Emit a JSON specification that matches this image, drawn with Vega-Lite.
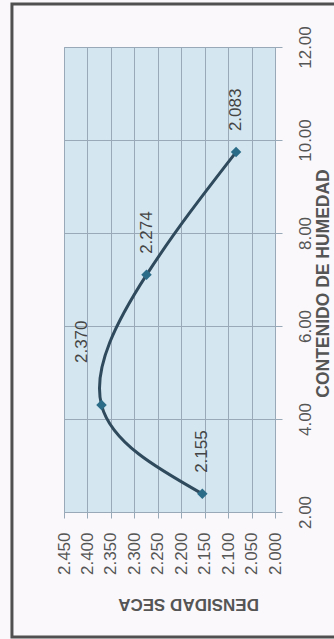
{
  "$schema": "https://vega.github.io/schema/vega-lite/v6.json",
  "autosize": {"type": "none"},
  "width": 211,
  "height": 465,
  "padding": {"left": 64, "top": 47, "right": 59, "bottom": 127},
  "background": "#faf8fb",
  "config": {
    "view": {"fill": "#d4e6f0", "stroke": "#9aa9b8", "strokeWidth": 1},
    "font": "Liberation Sans"
  },
  "datasets": {
    "pts": [
      {"humedad": 2.39, "densidad": 2.155},
      {"humedad": 4.30, "densidad": 2.370},
      {"humedad": 7.10, "densidad": 2.274},
      {"humedad": 9.74, "densidad": 2.083}
    ],
    "frame": [{"left": 2.561, "right": 1.84, "top": 12.925, "bottom": -0.688}]
  },
  "encoding": {
    "x": {
      "field": "densidad",
      "type": "quantitative",
      "scale": {"domain": [2.0, 2.45], "reverse": true, "nice": false, "zero": false},
      "axis": {
        "orient": "bottom",
        "values": [2.0, 2.05, 2.1, 2.15, 2.2, 2.25, 2.3, 2.35, 2.4, 2.45],
        "format": ".3f",
        "labelAngle": 270,
        "labelAlign": "right",
        "labelBaseline": "middle",
        "labelFontSize": 17,
        "labelColor": "#555555",
        "labelPadding": 14,
        "tickSize": 6,
        "tickColor": "#9aa9b8",
        "domainColor": "#9aa9b8",
        "gridColor": "#9aa9b8",
        "gridOpacity": 1,
        "title": "DENSIDAD SECA",
        "titleAngle": 180,
        "titleFontSize": 17,
        "titleFontWeight": "bold",
        "titleColor": "#555555",
        "titleAlign": "center",
        "titleBaseline": "middle",
        "titleX": 124,
        "titleY": 91
      }
    },
    "y": {
      "field": "humedad",
      "type": "quantitative",
      "scale": {"domain": [2, 12], "nice": false, "zero": false},
      "axis": {
        "orient": "right",
        "values": [2, 4, 6, 8, 10, 12],
        "format": ".2f",
        "labelAngle": 270,
        "labelAlign": "center",
        "labelBaseline": "middle",
        "labelFontSize": 17,
        "labelColor": "#555555",
        "labelPadding": 23,
        "tickSize": 7,
        "tickColor": "#9aa9b8",
        "domainColor": "#9aa9b8",
        "gridColor": "#9aa9b8",
        "gridOpacity": 1,
        "title": "CONTENIDO DE HUMEDAD",
        "titleAngle": 270,
        "titleFontSize": 17.5,
        "titleFontWeight": "bold",
        "titleColor": "#555555",
        "titleAlign": "center",
        "titleBaseline": "middle",
        "titleX": 48,
        "titleY": 236
      }
    }
  },
  "layer": [
    {
      "data": {"name": "frame"},
      "mark": {"type": "rect", "fill": null, "stroke": "#505050", "strokeWidth": 3, "clip": false},
      "encoding": {
        "x": {"field": "left", "type": "quantitative"},
        "x2": {"field": "right"},
        "y": {"field": "top", "type": "quantitative"},
        "y2": {"field": "bottom"}
      }
    },
    {
      "data": {"name": "pts"},
      "mark": {"type": "line", "interpolate": "natural", "color": "#2f4a5c", "strokeWidth": 3},
      "encoding": {"order": {"field": "humedad", "type": "quantitative"}}
    },
    {
      "data": {"name": "pts"},
      "mark": {"type": "point", "shape": "diamond", "filled": true, "size": 110, "color": "#2b6c88", "opacity": 1}
    },
    {
      "data": {"name": "pts"},
      "transform": [{"filter": "datum.densidad != 2.370"}],
      "mark": {"type": "text", "angle": 270, "align": "left", "baseline": "middle", "dx": 21, "fontSize": 17, "color": "#444444"},
      "encoding": {"text": {"field": "densidad", "type": "quantitative", "format": ".3f"}}
    },
    {
      "data": {"name": "pts"},
      "transform": [{"filter": "datum.densidad == 2.370"}],
      "mark": {"type": "text", "angle": 270, "align": "left", "baseline": "middle", "dx": 42, "dy": -20, "fontSize": 17, "color": "#444444"},
      "encoding": {"text": {"field": "densidad", "type": "quantitative", "format": ".3f"}}
    }
  ]
}
